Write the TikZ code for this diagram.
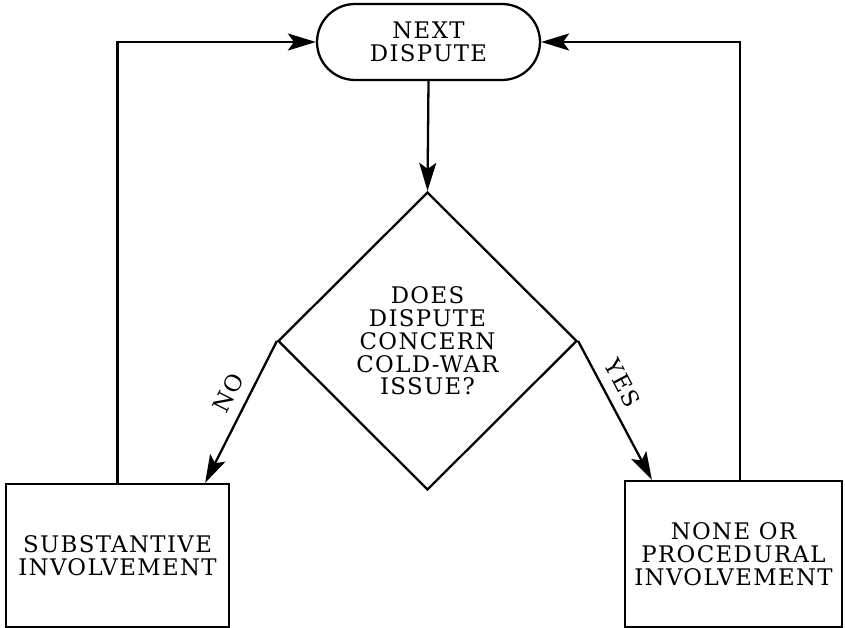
\documentclass[tikz,border=0pt]{standalone}
\usepackage{fontspec}
\setmainfont{DejaVu Serif}[LetterSpace=6]
\usetikzlibrary{arrows.meta,shapes.geometric}

\tikzset{
  flowline/.style={line width=1.3pt, -{Stealth[length=0.56cm, width=0.34cm, inset=0.12cm]}},
  boxtext/.style={align=center, inner sep=0pt, font=\fontsize{13}{13}\selectfont},
  boxline/.style={draw, line width=1.3pt},
}

\begin{document}
\begin{tikzpicture}[x=0.02cm, y=-0.02cm]
% Page size
\useasboundingbox (0,0) rectangle (845,628);

% Start of the loop
\node[boxtext, boxline, rounded corners=0.76cm, minimum width=4.46cm, minimum height=1.52cm] (next) at (428.5,42) {NEXT\\DISPUTE};

% The question
\node[boxtext, boxline, shape=diamond, aspect=1, minimum width=5.98cm, minimum height=5.96cm] (issue) at (427.5,341) {DOES\\DISPUTE\\CONCERN\\COLD-WAR\\ISSUE?};

% The two outcomes
\node[boxtext, boxline, minimum width=4.46cm, minimum height=2.86cm] (subst) at (117.5,555.5) {SUBSTANTIVE\\INVOLVEMENT};
\node[boxtext, boxline, minimum width=4.34cm, minimum height=2.92cm] (proc) at (733.5,554) {NONE OR\\PROCEDURAL\\INVOLVEMENT};

% Connectors
\draw[flowline] (next.south) -- (issue.north);
\draw[flowline, {Stealth[length=0.56cm, width=0.34cm, inset=0.12cm]}-] ([xshift=-0.5cm]subst.north east) -- node[boxtext, sloped, above=0.2cm, pos=0.57] {NO} (issue.west);
\draw[flowline] (issue.east) -- node[boxtext, sloped, above=0.2cm, pos=0.37] {YES} ([xshift=0.56cm]proc.north west);
\draw[flowline] (subst.north) |- (next.west);
\draw[flowline] ([xshift=0.13cm]proc.north) |- (next.east);
\end{tikzpicture}
\end{document}
